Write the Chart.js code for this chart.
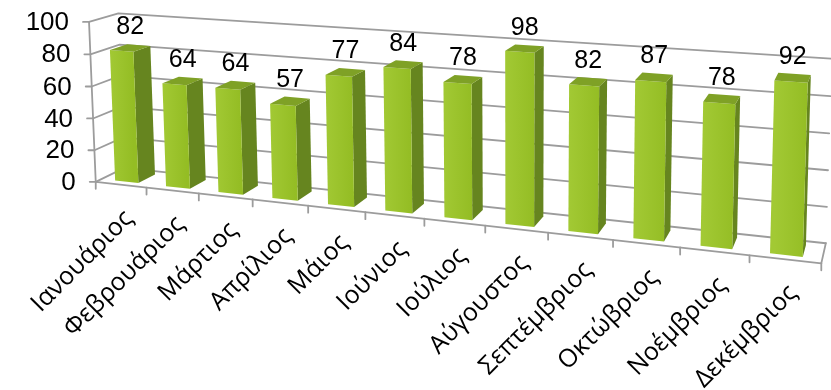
<!DOCTYPE html>
<html>
<head>
<meta charset="utf-8">
<script src="https://cdn.jsdelivr.net/npm/chart.js@4.4.1/dist/chart.umd.min.js"></script>
<style>
  html, body { margin: 0; padding: 0; background: #fff; }
  #contenedor { width: 831px; height: 390px; }
</style>
</head>
<body>
<div id="contenedor"><canvas id="grafico"></canvas></div>
<script>
// Datos
const meses = ['Ιανουάριος', 'Φεβρουάριος', 'Μάρτιος', 'Απρίλιος', 'Μάιος', 'Ιούνιος',
  'Ιούλιος', 'Αύγουστος', 'Σεπτέμβριος', 'Οκτώβριος', 'Νοέμβριος', 'Δεκέμβριος'];
const valores = [82, 64, 64, 57, 77, 84, 78, 98, 82, 87, 78, 92];
const ejeYMin = 0;
const ejeYMax = 100;
const ejeYPaso = 20;

// Puntos de referencia para la perspectiva (X fraccion del eje, Y fraccion de valor, Z profundidad -> pixel)
const zFrente = 0.2, zFondo = 0.8;
const anchoCat = 0.46;
const x0Ene = (1 - anchoCat) / 2 / 12;
const x0Dic = (11 + (1 - anchoCat) / 2) / 12;
const refCamara = [
  [0, 0, 0, 95, 182], [0, 1, 0, 84, 22], [0, 1, 1, 121, 13], [0, 0, 1, 120, 170],
  [1, 0, 0, 820, 264], [1, 0, 1, 827, 242], [1, 1, 1, 830, 58], [1, 0.8, 1, 830, 97],
  [0.25, 0, 0, 252, 201], [0.5, 0, 0, 423, 219], [0.75, 0, 0, 612, 241],
  [x0Ene, 0.82, zFrente, 113, 49], [x0Ene, 0, zFrente, 121, 178],
  [x0Dic, 0.92, zFrente, 776, 82], [x0Dic, 0, zFrente, 772, 251]
];

function resolverCamara(pares) {
  const n = 11;
  const M = Array.from({ length: n }, () => new Array(n + 1).fill(0));
  pares.forEach(([X, Y, Z, u, v]) => {
    const filas = [
      [X, Y, Z, 1, 0, 0, 0, 0, -u * X, -u * Y, -u * Z, u],
      [0, 0, 0, 0, X, Y, Z, 1, -v * X, -v * Y, -v * Z, v]
    ];
    filas.forEach(f => {
      for (let i = 0; i < n; i++) {
        for (let j = 0; j < n; j++) M[i][j] += f[i] * f[j];
        M[i][n] += f[i] * f[n];
      }
    });
  });
  for (let c = 0; c < n; c++) {
    let p = c;
    for (let r = c + 1; r < n; r++) if (Math.abs(M[r][c]) > Math.abs(M[p][c])) p = r;
    [M[c], M[p]] = [M[p], M[c]];
    for (let r = 0; r < n; r++) {
      if (r === c) continue;
      const f = M[r][c] / M[c][c];
      for (let k = c; k <= n; k++) M[r][k] -= f * M[c][k];
    }
  }
  return M.map((fila, i) => fila[n] / fila[i]);
}

const camara = resolverCamara(refCamara);

function proyectar(X, Y, Z) {
  const P = camara;
  const w = P[8] * X + P[9] * Y + P[10] * Z + 1;
  return {
    x: (P[0] * X + P[1] * Y + P[2] * Z + P[3]) / w,
    y: (P[4] * X + P[5] * Y + P[6] * Z + P[7]) / w
  };
}

function trazo(ctx, pts) {
  ctx.beginPath();
  pts.forEach((p, i) => i ? ctx.lineTo(p.x, p.y) : ctx.moveTo(p.x, p.y));
  ctx.stroke();
}

function cara(ctx, pts, color) {
  ctx.beginPath();
  pts.forEach((p, i) => i ? ctx.lineTo(p.x, p.y) : ctx.moveTo(p.x, p.y));
  ctx.closePath();
  ctx.fillStyle = color;
  ctx.fill();
}

// Dibuja la escena 3D a partir de las escalas de Chart.js
const vista3D = {
  id: 'vista3D',
  afterDatasetsDraw(chart) {
    const ctx = chart.ctx;
    const area = chart.chartArea;
    const escY = chart.scales.y;
    const nX = px => (px - area.left) / area.width;
    const nY = py => (area.bottom - py) / area.height;
    const nCat = meses.length;

    ctx.save();
    ctx.lineCap = 'round';
    ctx.lineJoin = 'round';

    // Paredes y lineas de division
    ctx.strokeStyle = '#9c9c9c';
    ctx.lineWidth = 1.8;
    escY.ticks.forEach(t => {
      const Y = nY(escY.getPixelForValue(t.value));
      trazo(ctx, [proyectar(0, Y, 0), proyectar(0, Y, 1), proyectar(1, Y, 1)]);
      const p = proyectar(0, Y, 0);
      trazo(ctx, [p, { x: p.x - 6, y: p.y }]);
    });
    // Piso y eje vertical
    trazo(ctx, [proyectar(0, 0, 0), proyectar(1, 0, 0), proyectar(1, 0, 1)]);
    trazo(ctx, [proyectar(0, 0, 0), proyectar(0, 1, 0)]);
    for (let k = 0; k <= nCat; k++) {
      const p = proyectar(k / nCat, 0, 0);
      trazo(ctx, [p, { x: p.x, y: p.y + 7 }]);
    }

    // Barras
    const meta = chart.getDatasetMeta(0);
    meta.data.forEach(barra => {
      const x0 = nX(barra.x - barra.width / 2);
      const x1 = nX(barra.x + barra.width / 2);
      const arriba = nY(barra.y);
      const abajo = nY(barra.base);
      cara(ctx, [proyectar(x1, abajo, zFrente), proyectar(x1, abajo, zFondo),
        proyectar(x1, arriba, zFondo), proyectar(x1, arriba, zFrente)], '#66851f');
      const f0 = proyectar(x0, abajo, zFrente), f1 = proyectar(x1, abajo, zFrente);
      const f2 = proyectar(x1, arriba, zFrente), f3 = proyectar(x0, arriba, zFrente);
      const grad = ctx.createLinearGradient(f3.x, 0, f2.x, 0);
      grad.addColorStop(0, '#a2c934');
      grad.addColorStop(1, '#94bd24');
      cara(ctx, [f0, f1, f2, f3], grad);
      cara(ctx, [f3, f2, proyectar(x1, arriba, zFondo), proyectar(x0, arriba, zFondo)], '#7fa126');
    });

    // Etiquetas de datos
    ctx.fillStyle = '#000';
    ctx.font = '25px "Liberation Sans", Arial, sans-serif';
    ctx.textAlign = 'center';
    ctx.textBaseline = 'alphabetic';
    meta.data.forEach((barra, i) => {
      const xc = nX(barra.x);
      const p = proyectar(xc, nY(barra.y), (zFrente + zFondo) / 2);
      ctx.fillText(String(valores[i]), p.x, p.y - 14);
    });

    // Etiquetas eje Y
    ctx.font = '26px "Liberation Sans", Arial, sans-serif';
    ctx.textAlign = 'right';
    ctx.textBaseline = 'middle';
    escY.ticks.forEach(t => {
      const p = proyectar(0, nY(escY.getPixelForValue(t.value)), 0);
      ctx.fillText(String(t.value), p.x - 20, p.y + 1);
    });

    // Etiquetas eje X
    ctx.font = '25px "Open Sans", "Noto Sans", sans-serif';
    meses.forEach((mes, i) => {
      const p = proyectar((i + 0.5) / nCat, 0, 0);
      ctx.save();
      ctx.translate(p.x + 8, p.y + 30);
      ctx.rotate(-Math.PI / 4);
      ctx.fillText(mes, 0, 0);
      ctx.restore();
    });

    ctx.restore();
  }
};

new Chart(document.getElementById('grafico'), {
  type: 'bar',
  data: {
    labels: meses,
    datasets: [{
      data: valores,
      backgroundColor: 'rgba(0,0,0,0)',
      borderWidth: 0,
      barPercentage: 1,
      categoryPercentage: anchoCat
    }]
  },
  options: {
    responsive: true,
    maintainAspectRatio: false,
    animation: false,
    plugins: { legend: { display: false }, tooltip: { enabled: false } },
    scales: {
      x: { display: false },
      y: { display: false, min: ejeYMin, max: ejeYMax, ticks: { stepSize: ejeYPaso } }
    }
  },
  plugins: [vista3D]
});
</script>
</body>
</html>
